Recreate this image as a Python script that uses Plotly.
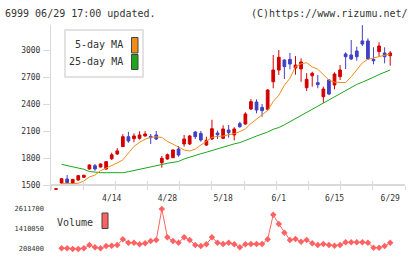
import numpy as np
import plotly.graph_objects as go

W, H = 420, 259

# ---------------- data ----------------
date_labels = ["4/14", "4/28", "5/18", "6/1", "6/15", "6/29"]
label_idx = [10, 20, 30, 40, 50, 60]

opens = [1452, 1522, 1567, 1519, 1556, 1586, 1678, 1715, 1700, 1678,
         1793, 1845, 1927, 2038, 2016, 2020, 2046, 2042, 2057, 1748,
         1790, 1804, 1901, 1957, 1957, 2090, 2075, 1945, 2012, 2079,
         2020, 2112, 2057, 2183, 2179, 2346, 2424, 2365, 2343, 2650,
         2781, 2892, 2899, 2803, 2792, 2584, 2717, 2640, 2483, 2670,
         2613, 2706, 2959, 2948, 2992, 3104, 3104, 2899, 2985, 2970, 2940]
highs = [1458, 1578, 1611, 1567, 1611, 1615, 1730, 1734, 1740, 1767,
         1860, 1910, 2066, 2092, 2075, 2098, 2100, 2068, 2101, 1823,
         1850, 1895, 1934, 2057, 2057, 2101, 2101, 2038, 2227, 2105,
         2165, 2168, 2143, 2205, 2310, 2458, 2454, 2402, 2569, 2948,
         3003, 2899, 2970, 2936, 2910, 2745, 2762, 2725, 2595, 2680,
         2755, 2836, 2978, 3115, 3040, 3280, 3133, 3033, 3089, 3033, 2992]
lows = [1452, 1515, 1512, 1512, 1548, 1580, 1670, 1659, 1695, 1670,
        1778, 1834, 1925, 1970, 1975, 2005, 2038, 1957, 2001, 1693,
        1780, 1800, 1815, 1927, 1945, 2012, 1983, 1934, 2001, 2012,
        2012, 2027, 1997, 2138, 2170, 2335, 2298, 2261, 2328, 2577,
        2725, 2680, 2788, 2728, 2650, 2547, 2595, 2577, 2416, 2500,
        2566, 2669, 2792, 2892, 2884, 3048, 2892, 2844, 2929, 2855, 2829]
closes = [1458, 1570, 1526, 1563, 1604, 1608, 1723, 1678, 1734, 1760,
          1837, 1880, 2038, 1990, 2046, 2057, 2068, 2027, 2012, 1797,
          1837, 1890, 1834, 2012, 2046, 2038, 2001, 1997, 2127, 2060,
          2124, 2082, 2124, 2149, 2291, 2428, 2335, 2328, 2558, 2781,
          2922, 2818, 2847, 2836, 2870, 2677, 2744, 2617, 2569, 2513,
          2736, 2781, 2929, 2903, 2929, 3070, 2903, 2884, 3048, 2929, 2970]

ma5 = [1515, 1512, 1515, 1519, 1545, 1590, 1610, 1660, 1686, 1715,
       1745, 1780, 1860, 1930, 1975, 2010, 2031, 2036, 2030, 1985,
       1955, 1920, 1890, 1878, 1900, 1945, 1990, 2030, 2042, 2045,
       2060, 2072, 2095, 2125, 2185, 2235, 2280, 2330, 2430, 2500,
       2610, 2688, 2818, 2850, 2862, 2815, 2790, 2730, 2668, 2645,
       2640, 2640, 2705, 2781, 2860, 2900, 2915, 2935, 2950, 2959]
ma25 = [1730, 1718, 1704, 1690, 1675, 1650, 1640, 1637, 1637, 1637,
        1637, 1637, 1648, 1660, 1672, 1688, 1700, 1716, 1728, 1742,
        1752, 1762, 1790, 1812, 1830, 1848, 1865, 1885, 1905, 1922,
        1942, 1958, 1972, 2000, 2020, 2045, 2065, 2090, 2120, 2140,
        2170, 2205, 2235, 2270, 2305, 2340, 2375, 2410, 2445, 2480,
        2515, 2550, 2585, 2620, 2645, 2670, 2700, 2730, 2755, 2781]

volume = [248500, 248500, 208400, 215000, 248500, 448700, 308500, 248500, 388600, 408700,
          448700, 789200, 588900, 588900, 488800, 548900, 689100, 749100, 2611700, 909400,
          689100, 588900, 909400, 749100, 448700, 388600, 488800, 909400, 588900, 508800,
          588900, 488800, 308500, 488800, 508800, 508800, 508800, 789200, 2271200, 1710500,
          1189700, 749100, 809200, 649000, 749100, 548900, 448700, 508800, 448700, 408700,
          448700, 608900, 608900, 608900, 608900, 588900, 288500, 288500, 388600, 588900]

price_ticks = [1500, 1800, 2100, 2400, 2700, 3000]
vol_ticks = [208400, 1410050, 2611700]

# ---------------- geometry helpers ----------------
def px(x):
    return x / W

def py(y):
    return 1 - y / H

idx = list(range(len(opens)))
sub_idx = idx[1:]

XL, XR = 51, 405          # plot area left/right (px)
X0, STEP = 56, 5.57       # first candle px, px per bar
xr = [(XL - X0) / STEP, (XR - X0) / STEP]
grid_ticks = list(np.linspace(xr[0], xr[1], 12))

PTOP, PBOT, AXY = 25, 191, 185     # price panel top/bottom & axis y (px)
ppy = 134.7 / 1500.0
yr = [1500 - (PBOT - AXY) / ppy, 1500 + (AXY - PTOP) / ppy]

VTOP, VBOT = 203, 255
vpp = 20 / 1201650.0
vr = [208400 - (VBOT - 249) / vpp, 208400 + (249 - VTOP) / vpp]

GRID = "#d9d9d9"
TXT = "#333333"
MONO = "DejaVu Sans Mono"

fig = go.Figure()

fig.add_trace(go.Candlestick(
    x=idx, open=opens, high=highs, low=lows, close=closes,
    increasing=dict(line=dict(color="#d40000", width=1), fillcolor="#d40000"),
    decreasing=dict(line=dict(color="#4040c4", width=1), fillcolor="#4040c4"),
    whiskerwidth=0, showlegend=False, hoverinfo="skip",
    xaxis="x", yaxis="y"))

fig.add_trace(go.Scatter(x=sub_idx, y=ma25, mode="lines",
                         line=dict(color="#1ca61c", width=1),
                         showlegend=False, hoverinfo="skip", xaxis="x", yaxis="y"))
fig.add_trace(go.Scatter(x=sub_idx, y=ma5, mode="lines",
                         line=dict(color="#f08c1a", width=1),
                         showlegend=False, hoverinfo="skip", xaxis="x", yaxis="y"))

fig.add_trace(go.Scatter(x=sub_idx, y=volume, mode="lines+markers",
                         line=dict(color="#ff6262", width=1),
                         marker=dict(symbol="diamond", size=5, color="#ff6262"),
                         showlegend=False, hoverinfo="skip", xaxis="x2", yaxis="y2"))

# empty helper traces so that the overlay axes (inner ticks / date labels) get drawn
for ax in ("x3", "x4"):
    fig.add_trace(go.Scatter(x=[None], y=[None], mode="markers",
                             showlegend=False, hoverinfo="skip",
                             xaxis=ax, yaxis="y"))

dom_x = [px(XL), px(XR)]
fig.update_layout(
    width=W, height=H, autosize=False,
    margin=dict(l=0, r=0, t=0, b=0),
    paper_bgcolor="white", plot_bgcolor="white",
    showlegend=False,
    xaxis=dict(domain=dom_x, range=xr, anchor="free", position=py(AXY),
               showline=True, linecolor=GRID, linewidth=2,
               ticks="outside", ticklen=4, tickwidth=1, tickcolor=GRID,
               tickvals=grid_ticks, showticklabels=False,
               showgrid=False, zeroline=False, fixedrange=True,
               rangeslider=dict(visible=False)),
    xaxis3=dict(overlaying="x", range=xr, anchor="free", position=py(AXY),
                showline=False, ticks="inside", ticklen=4, tickwidth=1, tickcolor=GRID,
                tickvals=grid_ticks, showticklabels=False,
                showgrid=False, zeroline=False, fixedrange=True),
    xaxis4=dict(overlaying="x", range=xr, anchor="free", position=py(AXY),
                showline=False, ticks="", tickvals=label_idx, ticktext=date_labels,
                tickfont=dict(family=MONO, size=8, color=TXT),
                ticklabelstandoff=7,
                showgrid=False, zeroline=False, fixedrange=True),
    yaxis=dict(domain=[py(PBOT), py(PTOP)], range=yr, anchor="x",
               showline=True, linecolor=GRID, linewidth=1,
               ticks="outside", ticklen=7, tickwidth=1, tickcolor=GRID,
               tickvals=price_ticks, ticktext=[str(v) for v in price_ticks],
               tickfont=dict(family=MONO, size=8, color=TXT),
               ticklabelstandoff=1,
               showgrid=False, zeroline=False, fixedrange=True),
    yaxis3=dict(overlaying="y", range=yr, anchor="x",
                showline=False, ticks="inside", ticklen=3, tickwidth=1, tickcolor=GRID,
                tickvals=price_ticks, showticklabels=False,
                showgrid=False, zeroline=False, fixedrange=True),
    xaxis2=dict(domain=dom_x, range=xr, anchor="y2", visible=False, fixedrange=True),
    yaxis2=dict(domain=[py(VBOT), py(VTOP)], range=vr, anchor="x2",
                showline=False, ticks="", showgrid=False, zeroline=False,
                tickvals=vol_ticks, ticktext=[str(v) for v in vol_ticks],
                tickfont=dict(family=MONO, size=7, color=TXT),
                ticklabelstandoff=6, fixedrange=True),
)

# ---------------- texts ----------------
fig.add_annotation(x=px(3), y=py(13), xref="paper", yref="paper",
                   text="6999 06/29 17:00 updated.", showarrow=False,
                   xanchor="left", yanchor="middle",
                   font=dict(family=MONO, size=10, color=TXT))
fig.add_annotation(x=px(410), y=py(13), xref="paper", yref="paper",
                   text="(C)https://www.rizumu.net/", showarrow=False,
                   xanchor="right", yanchor="middle",
                   font=dict(family=MONO, size=10, color=TXT))

# legend box (price)
fig.add_shape(type="rect", xref="paper", yref="paper",
              x0=px(65), x1=px(143), y0=py(77), y1=py(30),
              line=dict(color="#d9d9d9", width=1.5), fillcolor="white", layer="above")
fig.add_annotation(x=px(125), y=py(45), xref="paper", yref="paper", text="5-day MA",
                   showarrow=False, xanchor="right", yanchor="middle",
                   font=dict(family=MONO, size=10, color=TXT))
fig.add_annotation(x=px(125), y=py(62), xref="paper", yref="paper", text="25-day MA",
                   showarrow=False, xanchor="right", yanchor="middle",
                   font=dict(family=MONO, size=10, color=TXT))
fig.add_shape(type="rect", xref="paper", yref="paper",
              x0=px(131.5), x1=px(138), y0=py(53), y1=py(37.5),
              line=dict(color="#444444", width=1), fillcolor="#f08c1a", layer="above")
fig.add_shape(type="rect", xref="paper", yref="paper",
              x0=px(131.5), x1=px(138), y0=py(69.5), y1=py(54.5),
              line=dict(color="#444444", width=1), fillcolor="#1ca61c", layer="above")

# volume legend
fig.add_annotation(x=px(95), y=py(222), xref="paper", yref="paper", text="Volume",
                   showarrow=False, xanchor="right", yanchor="middle",
                   font=dict(family=MONO, size=10, color=TXT))
fig.add_shape(type="rect", xref="paper", yref="paper",
              x0=px(102), x1=px(108), y0=py(228.5), y1=py(213),
              line=dict(color="#444444", width=1), fillcolor="#ff6262", layer="above")

fig.write_html("out.html")
